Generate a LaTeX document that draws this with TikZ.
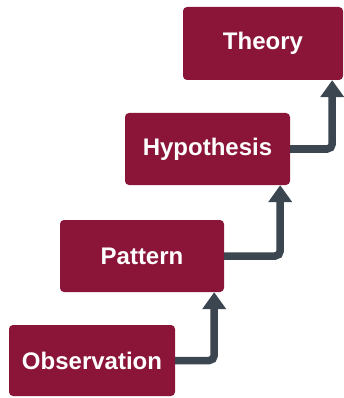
\documentclass[tikz,border=0pt]{standalone}
\usepackage{fontspec}
\setmainfont{Liberation Sans}
\usetikzlibrary{arrows.meta,calc}
\definecolor{boxred}{HTML}{8A1538}
\definecolor{arrowgray}{HTML}{3B4650}
\tikzset{
  stepbox/.style={fill=boxred, rounded corners=4pt, text=white, inner sep=0pt,
    font=\bfseries\fontsize{24}{28}\selectfont},
  conn/.style={draw=arrowgray, line width=7.5pt, rounded corners=5pt,
    -{Triangle[width=23pt,length=17pt]}}
}
\begin{document}
\begin{tikzpicture}[x=1pt,y=-1pt]
\useasboundingbox (0,0) rectangle (344,398);
\node[stepbox, minimum width=166pt, minimum height=71pt] (obs) at (92,360.5) {Observation};
\node[stepbox, minimum width=164pt, minimum height=72pt] (pat) at (142,256) {Pattern};
\node[stepbox, minimum width=165pt, minimum height=72pt] (hyp) at (207.5,149) {Hypothesis};
\node[stepbox, minimum width=160pt, minimum height=73pt] (the) at (263,43.5) {Theory};
\draw[conn] (obs.east) -| ($(pat.south east)+(-10,0)$);
\draw[conn] (pat.east) -| ($(hyp.south east)+(-10,0)$);
\draw[conn] (hyp.east) -| ($(the.south east)+(-11,0)$);
\end{tikzpicture}
\end{document}
